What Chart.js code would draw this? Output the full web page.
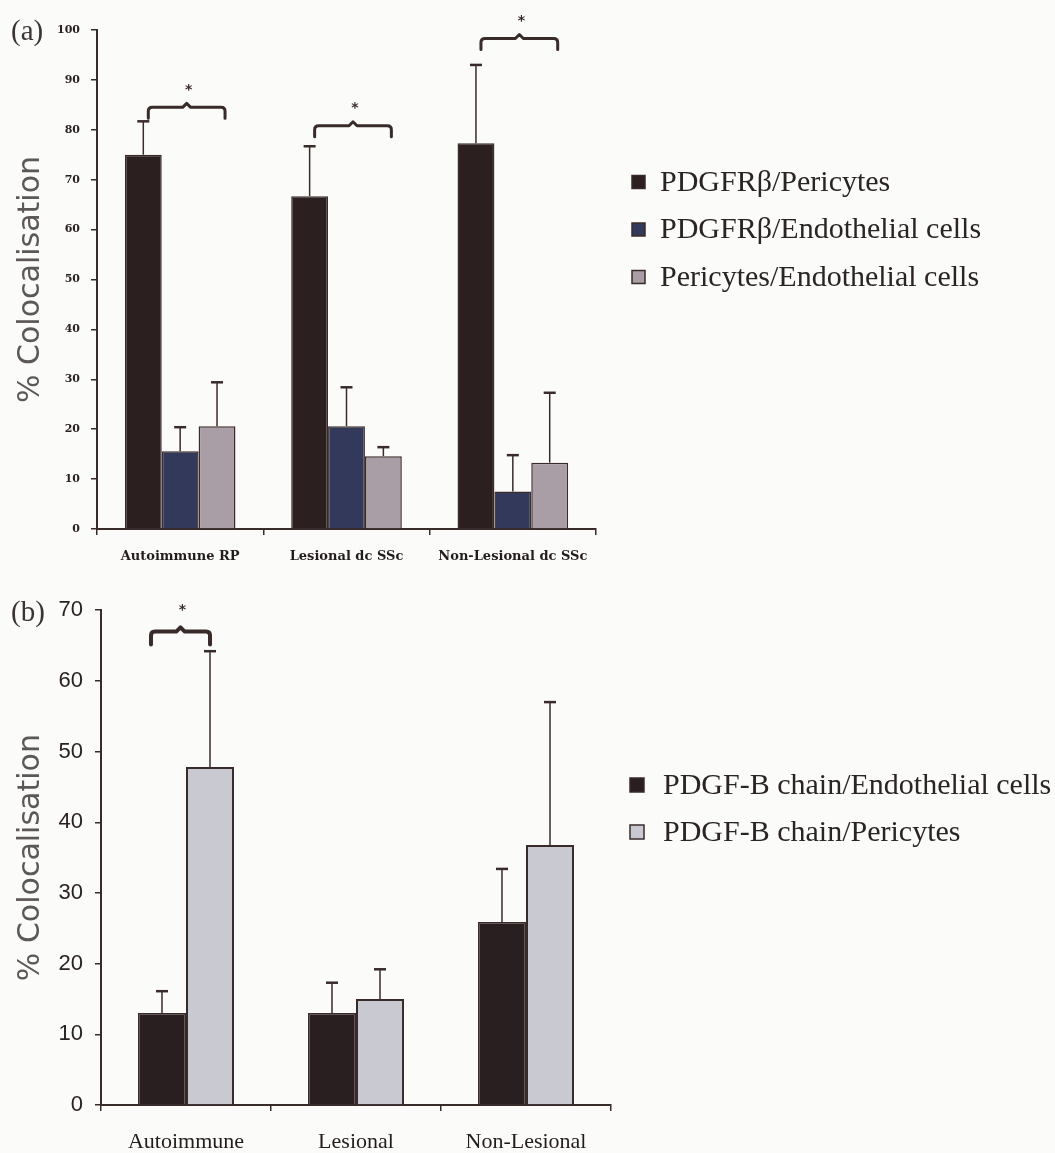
<!DOCTYPE html>
<html><head><meta charset="utf-8">
<script src="https://cdn.jsdelivr.net/npm/chart.js@4.4.1/dist/chart.umd.min.js"></script>
<style>
html,body{margin:0;padding:0;background:#fbfbf9;overflow:hidden;width:1055px;height:1153px;}
canvas{position:absolute;left:0;}
#ca{top:0;}
#cb{top:585px;}
.pl{position:absolute;font-family:'Liberation Serif',serif;font-size:29px;color:#3a3434;line-height:1;}
</style></head><body>
<canvas id="ca" width="1055" height="585"></canvas>
<canvas id="cb" width="1055" height="568"></canvas>
<div class="pl" style="left:11px;top:16px">(a)</div>
<div class="pl" style="left:11px;top:597px">(b)</div>
<script>
// ---------- Data: panel (a) ----------
const catsA = ['Autoimmune RP', 'Lesional dc SSc', 'Non-Lesional dc SSc'];
const labelsA = ['PDGFRβ/Pericytes', 'PDGFRβ/Endothelial cells', 'Pericytes/Endothelial cells'];
const pdgfrPericytes = [75.0, 66.7, 77.3];
const pdgfrPericytesErr = [6.7, 10.0, 15.7];
const pdgfrEndothelial = [15.6, 20.6, 7.5];
const pdgfrEndothelialErr = [4.8, 7.8, 7.3];
const pericytesEndothelial = [20.6, 14.6, 13.3];
const pericytesEndothelialErr = [8.8, 1.8, 14.0];
const ticksA = {min: 0, max: 100, step: 10};
const bracketCatsA = [0, 1, 2];
const bracketLevelsA = [84.5, 80.8, 98.3];

// ---------- Data: panel (b) ----------
const catsB = ['Autoimmune', 'Lesional', 'Non-Lesional'];
const labelsB = ['PDGF-B chain/Endothelial cells', 'PDGF-B chain/Pericytes'];
const pdgfbEndothelial = [13.0, 13.0, 25.9];
const pdgfbEndothelialErr = [3.1, 4.3, 7.5];
const pdgfbPericytes = [47.8, 15.0, 36.8];
const pdgfbPericytesErr = [16.4, 4.2, 20.2];
const ticksB = {min: 0, max: 70, step: 10};
const bracketCatsB = [0];
const bracketLevelsB = [67.0];

const AX = '#3a2b2b';

const errorBars = {
  id: 'errorBars',
  afterDatasetsDraw(chart, args, o) {
    const ctx = chart.ctx, ys = chart.scales.y;
    ctx.save();
    ctx.strokeStyle = o.color; ctx.lineWidth = o.width; ctx.lineCap = 'butt';
    chart.data.datasets.forEach((ds, di) => {
      const meta = chart.getDatasetMeta(di);
      meta.data.forEach((el, i) => {
        const top = ys.getPixelForValue(ds.data[i] + ds.errors[i]);
        ctx.beginPath();
        ctx.moveTo(el.x, el.y); ctx.lineTo(el.x, top);
        ctx.stroke();
        ctx.beginPath();
        ctx.lineWidth = o.capWidth;
        ctx.moveTo(el.x - o.cap / 2, top); ctx.lineTo(el.x + o.cap / 2, top);
        ctx.stroke();
        ctx.lineWidth = o.width;
      });
    });
    ctx.restore();
  }
};

const brackets = {
  id: 'brackets',
  afterDraw(chart, args, o) {
    const ctx = chart.ctx, ys = chart.scales.y;
    ctx.save();
    ctx.strokeStyle = o.color; ctx.fillStyle = o.color; ctx.lineWidth = o.width;
    ctx.lineJoin = 'round'; ctx.lineCap = 'round';
    o.cats.forEach((cat, k) => {
      const a = chart.getDatasetMeta(o.from).data[cat];
      const b = chart.getDatasetMeta(o.to).data[cat];
      const xl = a.x + o.dl, xr = b.x + o.dr;
      const yt = ys.getPixelForValue(o.levels[k]), yb = yt + o.drop, r = 4;
      const xm = (xl + xr) / 2;
      ctx.beginPath();
      ctx.moveTo(xl, yb);
      ctx.lineTo(xl, yt + r);
      ctx.quadraticCurveTo(xl, yt, xl + r, yt);
      ctx.lineTo(xm - 4, yt);
      ctx.lineTo(xm, yt - 4);
      ctx.lineTo(xm + 4, yt);
      ctx.lineTo(xr - r, yt);
      ctx.quadraticCurveTo(xr, yt, xr, yt + r);
      ctx.lineTo(xr, yb);
      ctx.stroke();
      ctx.font = 'bold 14px "DejaVu Sans"';
      ctx.textAlign = 'center'; ctx.textBaseline = 'middle';
      ctx.fillText('*', xm + 2, yt - o.starOff);
    });
    ctx.restore();
  }
};

const sideLegend = {
  id: 'sideLegend',
  afterDraw(chart, args, o) {
    const ctx = chart.ctx;
    ctx.save();
    ctx.font = o.font; ctx.textBaseline = 'middle'; ctx.textAlign = 'left';
    chart.data.datasets.forEach((ds, i) => {
      const y = o.y0 + i * o.dy;
      ctx.fillStyle = ds.backgroundColor;
      ctx.fillRect(o.x, y - o.box / 2, o.box, o.box);
      ctx.strokeStyle = AX; ctx.lineWidth = 1.5;
      ctx.strokeRect(o.x, y - o.box / 2, o.box, o.box);
      ctx.fillStyle = o.color;
      ctx.fillText(ds.label, o.textX, y + 1);
    });
    ctx.restore();
  }
};

function makeDs(label, data, errors, color, bw) {
  return {label, data, errors, backgroundColor: color, borderColor: AX, borderWidth: bw,
          categoryPercentage: 1, barPercentage: 1};
}

function axisOpts(cfg) {
  return {
    x: {
      grid: {drawOnChartArea: false, offset: true, color: AX, lineWidth: 1.5, tickLength: 6},
      border: {color: AX, width: 2},
      ticks: {font: cfg.xFont, color: '#231c1c', padding: cfg.xPad, maxRotation: 0, autoSkip: false},
      afterFit: s => { s.height = cfg.xH; }
    },
    y: {
      min: cfg.ticks.min, max: cfg.ticks.max,
      grid: {drawOnChartArea: false, color: AX, lineWidth: 1.5, tickLength: 6},
      border: {color: AX, width: 2},
      ticks: {stepSize: cfg.ticks.step, font: cfg.yFont, color: '#2a2222', padding: cfg.yPad},
      title: {display: true, text: '% Colocalisation', color: '#5c5858',
              font: {family: 'DejaVu Sans', size: 30, weight: 'normal'}, padding: {top: 13, bottom: 0}},
      afterFit: s => { s.width = cfg.yW; }
    }
  };
}

new Chart(document.getElementById('ca'), {
  type: 'bar',
  data: {
    labels: catsA,
    datasets: [
      makeDs(labelsA[0], pdgfrPericytes, pdgfrPericytesErr, '#2b1f20', 1.5),
      makeDs(labelsA[1], pdgfrEndothelial, pdgfrEndothelialErr, '#33395a', 1.5),
      makeDs(labelsA[2], pericytesEndothelial, pericytesEndothelialErr, '#a99ea5', 1.5)
    ].map(d => Object.assign(d, {categoryPercentage: 0.665}))
  },
  options: {
    responsive: false, animation: false,
    layout: {padding: {top: 30, right: 459, left: 0, bottom: 0}},
    plugins: {
      legend: {display: false}, tooltip: {enabled: false},
      errorBars: {color: AX, width: 1.5, cap: 12, capWidth: 2.5},
      brackets: {cats: bracketCatsA, levels: bracketLevelsA, from: 0, to: 2, dl: 5, dr: 8, drop: 11,
                 width: 3, color: AX, starOff: 17},
      sideLegend: {x: 632, y0: 182, dy: 47.5, box: 13, textX: 660, color: '#2a2424',
                   font: '30px "Liberation Serif"'}
    },
    scales: axisOpts({ticks: ticksA, xH: 56, yW: 97, xPad: 14, yPad: 11,
      xFont: {family: 'DejaVu Serif', weight: 'bold', size: 13},
      yFont: {family: 'DejaVu Serif', weight: 'bold', size: 11}})
  },
  plugins: [errorBars, brackets, sideLegend]
});

new Chart(document.getElementById('cb'), {
  type: 'bar',
  data: {
    labels: catsB,
    datasets: [
      makeDs(labelsB[0], pdgfbEndothelial, pdgfbEndothelialErr, '#2a1f20', 1.5),
      makeDs(labelsB[1], pdgfbPericytes, pdgfbPericytesErr, '#c9c9d1', 2)
    ].map(d => Object.assign(d, {categoryPercentage: 0.565}))
  },
  options: {
    responsive: false, animation: false,
    layout: {padding: {top: 24, right: 444, left: 0, bottom: 0}},
    plugins: {
      legend: {display: false}, tooltip: {enabled: false},
      errorBars: {color: AX, width: 1.5, cap: 12, capWidth: 2.5},
      brackets: {cats: bracketCatsB, levels: bracketLevelsB, from: 0, to: 1, dl: -11, dr: 0, drop: 13,
                 width: 4, color: AX, starOff: 21},
      sideLegend: {x: 630, y0: 200, dy: 47, box: 14, textX: 663, color: '#2a2424',
                   font: '30px "Liberation Serif"'}
    },
    scales: axisOpts({ticks: ticksB, xH: 48, yW: 101, xPad: 18, yPad: 12,
      xFont: {family: 'Liberation Serif', size: 22},
      yFont: {family: "'Liberation Sans Narrow','Liberation Sans'", size: 22}})
  },
  plugins: [errorBars, brackets, sideLegend]
});
</script>
</body></html>
